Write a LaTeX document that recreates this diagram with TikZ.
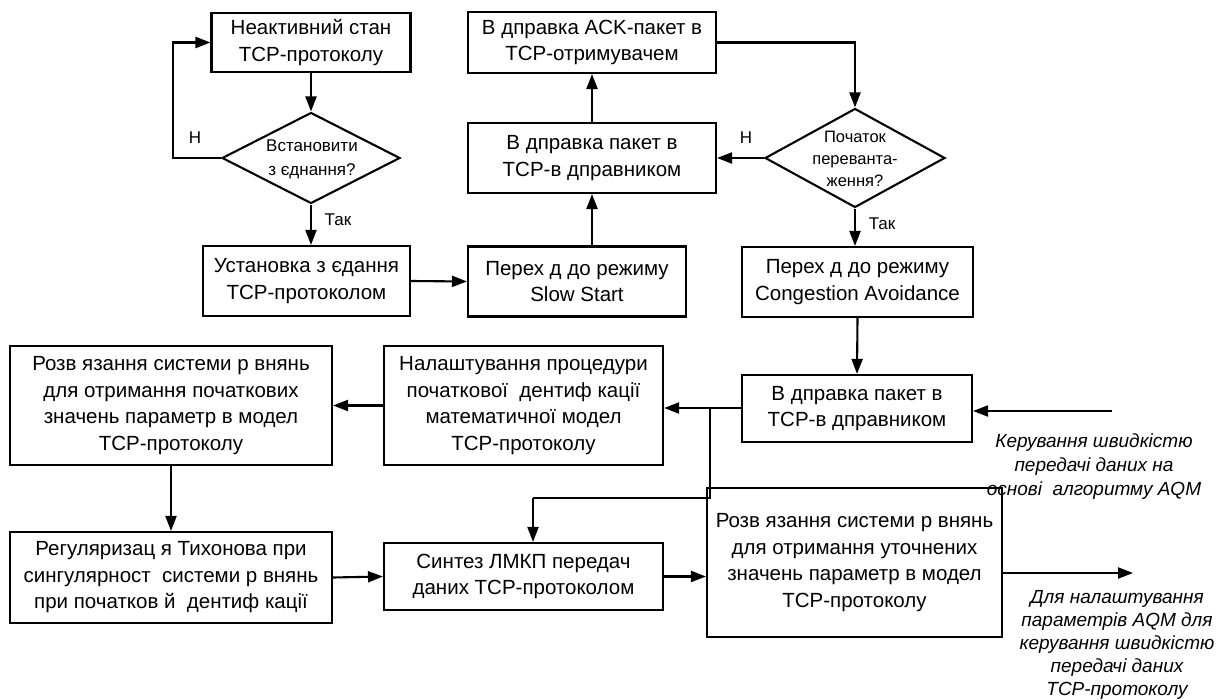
\documentclass[tikz,border=0pt]{standalone}
\usepackage{fontspec}
\setmainfont{Liberation Sans}
\usetikzlibrary{arrows.meta,shapes.geometric}
\tikzset{
  box/.style={draw, line width=2.1pt, inner sep=0pt, align=center, font=\fontsize{20.5}{26.5}\selectfont},
  dia/.style={draw, diamond, line width=2.1pt, inner sep=0pt},
  diatext/.style={align=center, font=\fontsize{17}{24}\selectfont},
  diatextb/.style={align=center, font=\fontsize{16.5}{22}\selectfont},
  lbl/.style={font=\fontsize{17}{20}\selectfont},
  note/.style={align=center, font=\fontsize{19}{24}\selectfont\itshape},
  noteb/.style={align=center, font=\fontsize{19}{23}\selectfont\itshape},
  conn/.style={line width=2.1pt},
  arr/.style={line width=2.1pt, -{Triangle[length=15pt,width=11pt]}}
}
\begin{document}
\begin{tikzpicture}[x=1pt,y=-1pt]
\useasboundingbox (0,0) rectangle (1223,700);
% nodes
\node[box, minimum width=199pt, minimum height=59pt] (b1) at (311,42.5) {Неактивний стан\\TCP-протоколу};
\node[dia, minimum width=178pt, minimum height=91pt] (d1) at (311,158) {};
\node[diatext] (d1t) at (312,159) {Встановити\\з єднання?};
\node[box, minimum width=207pt, minimum height=70pt] (b3) at (306.5,281) {Установка з єдання\\TCP-протоколом};
\node[box, minimum width=218pt, minimum height=70pt] (b4) at (577,281.5) {Перех д до режиму\\Slow Start};
\node[box, minimum width=248pt, minimum height=70pt] (b5) at (592,158) {В дправка пакет в\\TCP-в дправником};
\node[box, minimum width=248pt, minimum height=61pt] (b6) at (592,42.5) {В дправка ACK-пакет в\\TCP-отримувачем};
\node[dia, minimum width=180pt, minimum height=99pt] (d2) at (855,158) {};
\node[diatextb] (d2t) at (855,159) {Початок\\переванта-\\ження?};
\node[box, minimum width=231pt, minimum height=70pt] (b7) at (857.5,282) {Перех д до режиму\\Congestion Avoidance};
\node[box, minimum width=230pt, minimum height=67pt] (b8) at (857,408.5) {В дправка пакет в\\TCP-в дправником};
\node[box, minimum width=279pt, minimum height=119pt] (b9) at (523.5,405.5) {Налаштування процедури\\початкової\ \ дентиф кації\\математичної модел\\TCP-протоколу};
\node[box, minimum width=322pt, minimum height=119pt] (b10) at (171,405.5) {Розв язання системи р внянь\\для отримання початкових\\значень параметр в модел\\TCP-протоколу};
\node[box, minimum width=322pt, minimum height=91pt] (b11) at (171,577.5) {Регуляризац я Тихонова при\\сингулярност\ \ системи р внянь\\при початков й\ \ дентиф кації};
\node[box, minimum width=279pt, minimum height=67pt] (b12) at (523.5,576.5) {Синтез ЛМКП передач\\даних TCP-протоколом};
\node[box, minimum width=295pt, minimum height=149pt] (b13) at (854.5,562.5) {Розв язання системи р внянь\\для отримання уточнених\\значень параметр в модел\\TCP-протоколу};
% labels
\node[lbl] (n1) at (195,138) {Н};
\node[lbl] (y1) at (338,220) {Так};
\node[lbl] (n2) at (746,138) {Н};
\node[lbl] (y2) at (882,224) {Так};
\node[note] (t1) at (1094,467) {Керування швидкістю\\передачі даних на\\основі\ \ алгоритму AQM};
\node[noteb] (t2) at (1117,645) {Для налаштування\\параметрів AQM для\\керування швидкістю\\передачі даних\\TCP-протоколу};
% coordinates
\coordinate (l1) at (173,158);
\coordinate (in1) at (1112,411);
\coordinate (j1) at (710,408);
\coordinate (j2) at (710,498);
\coordinate (j3) at (533,498);
\coordinate (out1) at (1133,573);
% connectors
\draw[arr] (b1.south) -- (d1.north);
\draw[arr] (d1.west) -- (l1) |- (b1.west);
\draw[arr] (d1.south) -- (d1.south |- b3.north);
\draw[arr] (b3.east) -- (b4.west);
\draw[arr] (b5.south |- b4.north) -- (b5.south);
\draw[arr] (b5.north) -- (b6.south);
\draw[arr] (b6.east) -| (d2.north);
\draw[arr] (d2.west) -- (b5.east);
\draw[arr] (d2.south) -- (d2.south |- b7.north);
\draw[arr] (b7.south) -- (b8.north);
\draw[arr] (in1) -- (in1 -| b8.east);
\draw[arr] (b8.west |- j1) -- (b9.east |- j1);
\draw[conn] (j1) -- (j2) -- (j3);
\draw[arr] (j3) -- (j3 |- b12.north);
\draw[arr] (b9.west) -- (b10.east);
\draw[arr] (b10.south) -- (b11.north);
\draw[arr] (b11.east) -- (b12.west);
\draw[arr] (b12.east) -- (b13.west |- b12.east);
\draw[arr] (b13.east |- out1) -- (out1);
\end{tikzpicture}
\end{document}
